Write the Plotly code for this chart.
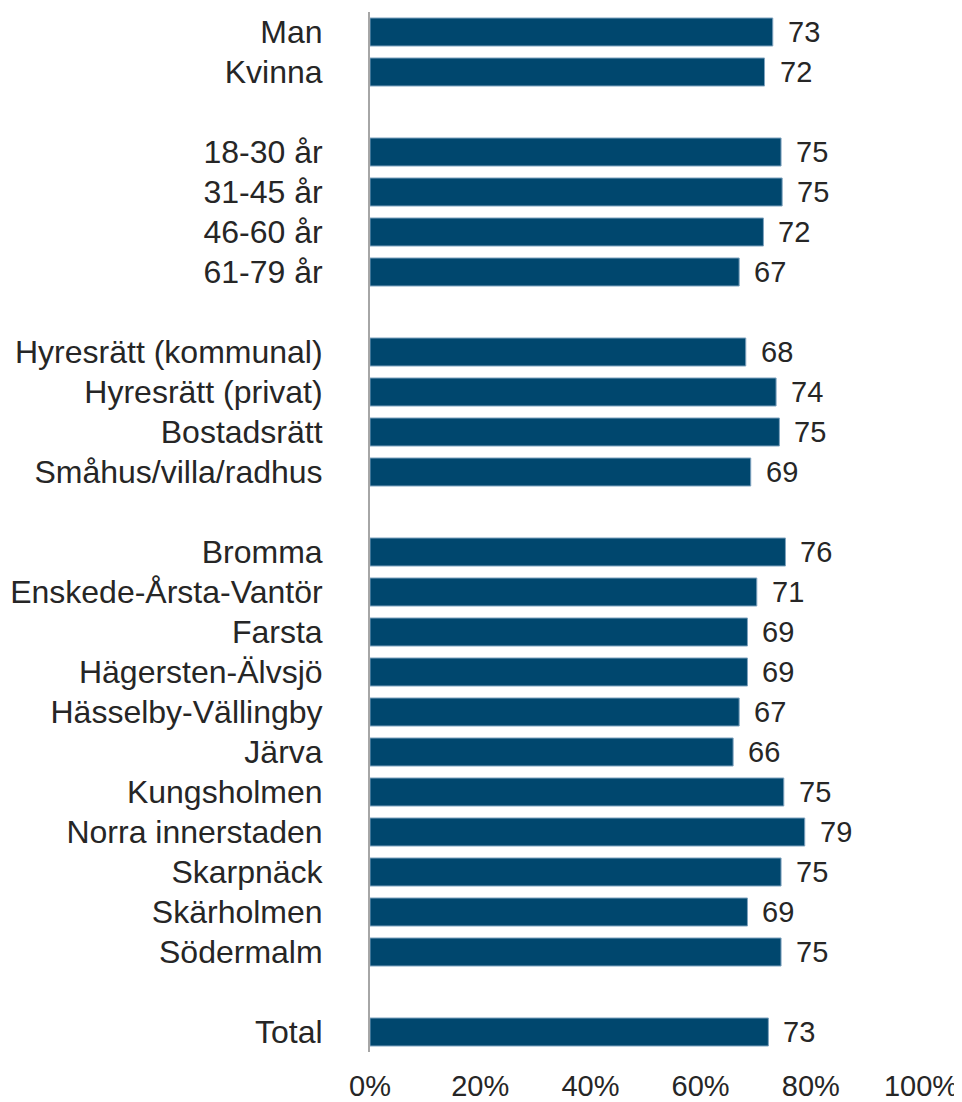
import plotly.graph_objects as go

categories = [
    "Man", "Kvinna", "",
    "18-30 år", "31-45 år", "46-60 år", "61-79 år", "",
    "Hyresrätt (kommunal)", "Hyresrätt (privat)", "Bostadsrätt", "Småhus/villa/radhus", "",
    "Bromma", "Enskede-Årsta-Vantör", "Farsta", "Hägersten-Älvsjö", "Hässelby-Vällingby",
    "Järva", "Kungsholmen", "Norra innerstaden", "Skarpnäck", "Skärholmen", "Södermalm", "",
    "Total",
]
values = [
    73.1, 71.6, None,
    74.6, 74.8, 71.4, 67.0, None,
    68.2, 73.7, 74.3, 69.1, None,
    75.4, 70.2, 68.5, 68.5, 67.0,
    65.9, 75.1, 78.9, 74.6, 68.5, 74.6, None,
    72.3,
]
labels = [
    "73", "72", None,
    "75", "75", "72", "67", None,
    "68", "74", "75", "69", None,
    "76", "71", "69", "69", "67",
    "66", "75", "79", "75", "69", "75", None,
    "73",
]
x_ticks = [0, 20, 40, 60, 80, 100]
x_ticktext = ["0%", "20%", "40%", "60%", "80%", "100%"]

positions = list(range(len(categories)))
bar_y = [p for p, v in zip(positions, values) if v is not None]
bar_x = [v for v in values if v is not None]

BAR = "#00476E"
TEXT = "#262626"
FONT = "Liberation Sans, Arial, sans-serif"

fig = go.Figure()
fig.add_trace(go.Bar(
    x=bar_x, y=bar_y, orientation="h", width=0.7,
    marker=dict(color=BAR, line=dict(color="#7fa3bf", width=1)),
    hoverinfo="skip",
))

for p, v, t in zip(positions, values, labels):
    if v is None:
        continue
    fig.add_annotation(
        x=v, y=p, text=t, showarrow=False, xanchor="left", yanchor="middle",
        xshift=13, font=dict(family=FONT, size=29, color=TEXT),
    )

# page body has an 8px default margin, so the figure is sized to fit the window
fig.update_layout(
    width=954, height=1094,
    margin=dict(l=362, r=41, t=4, b=50),
    paper_bgcolor="white", plot_bgcolor="white",
    showlegend=False,
    font=dict(family=FONT, color=TEXT),
    bargap=0.3,
)
fig.update_xaxes(
    range=[0, 100], tickvals=x_ticks, ticktext=x_ticktext,
    showgrid=False, zeroline=False, showline=False, ticks="",
    tickfont=dict(family=FONT, size=29, color=TEXT),
    ticklabelstandoff=14, automargin=False,
)
fig.update_yaxes(
    range=[len(categories) - 0.5, -0.5],
    tickvals=positions, ticktext=categories,
    showgrid=False, zeroline=False, ticks="",
    showline=True, linecolor="#a6a6a6", linewidth=2,
    tickfont=dict(family=FONT, size=32, color=TEXT),
    ticklabelstandoff=39, automargin=False,
)

fig.write_html("out.html")
